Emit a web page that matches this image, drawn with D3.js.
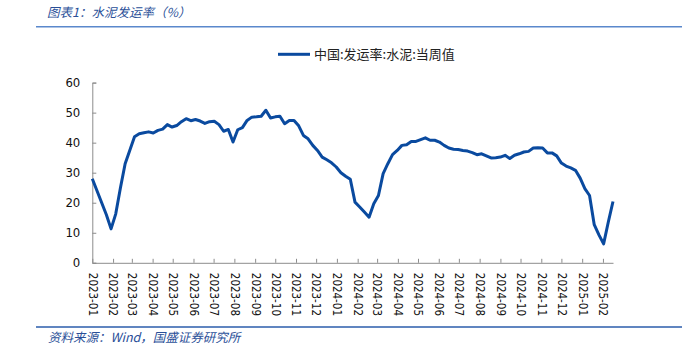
<!DOCTYPE html>
<html><head><meta charset="utf-8">
<script src="https://cdn.jsdelivr.net/npm/d3@7"></script>
<style>
html,body{margin:0;padding:0;background:#fff;}
svg{display:block;}
</style></head>
<body>
<svg id="c" width="685" height="360"></svg>
<script>
const titleText = "图表1：水泥发运率（%）";
const sourceText = "资料来源：Wind，国盛证券研究所";
const seriesName = "中国:发运率:水泥:当周值";
const startDate = "2023-01-06";
const values = [
 28,24,20,16,11.3,16.3,25,33,37.5,42,
 43,43.3,43.6,43.2,44.1,44.5,46,45.2,45.7,47,
 48,47.3,47.7,47.2,46.4,47,47.1,46,43.8,44.4,
 40.2,44.3,45,47.4,48.5,48.6,48.8,50.8,48.2,48.6,
 48.8,46.3,47.4,47.4,45.6,42.4,41.3,39.1,37.4,35.2,
 34.3,33.3,31.9,30,28.8,27.8,20.2,18.6,16.9,15.2,
 19.7,22.4,29.7,33,36,37.4,39.1,39.3,40.4,40.4,
 41,41.6,40.8,40.8,40.2,39.1,38.2,37.8,37.7,37.4,
 37.2,36.7,36,36.3,35.6,34.9,35,35.2,35.8,34.7,
 35.8,36.3,36.9,37.1,38.2,38.3,38.2,36.6,36.6,35.6,
 33.2,32.2,31.6,30.8,28.2,24.7,22.4,12.7,9.3,6.3,
 13.6,20.4
];
const tickLabels = ["2023-01","2023-02","2023-03","2023-04","2023-05","2023-06","2023-07","2023-08","2023-09","2023-10","2023-11","2023-12","2024-01","2024-02","2024-03","2024-04","2024-05","2024-06","2024-07","2024-08","2024-09","2024-10","2024-11","2024-12","2025-01","2025-02"];
const yTicks = [0,10,20,30,40,50,60];

const svg = d3.select("#c");
const blue = "#0a4a9f";
const textBlue = "#2a4f98";
const axisGrey = "#8c8c8c";
const parse = d3.timeParse("%Y-%m-%d");
const start = parse(startDate);
const data = values.map((v,i)=>({d:d3.timeWeek.offset(start,i), v}));
const tickDates = tickLabels.map(s=>parse(s+"-06"));

const x = d3.scaleTime().domain([data[0].d, data[data.length-1].d]).range([92.3, 613]);
const y = d3.scaleLinear().domain([0,60]).range([262.8, 82.6]);

// title
svg.append("text").attr("x",47).attr("y",17)
  .attr("font-family","'Noto Sans CJK SC'").attr("font-size",12.5)
  .attr("font-style","italic").attr("fill",textBlue).text(titleText);
svg.append("line").attr("x1",36).attr("x2",682).attr("y1",26.8).attr("y2",26.8)
  .attr("stroke","#5a88cc").attr("stroke-width",1.4);

// legend
svg.append("line").attr("x1",278).attr("x2",310).attr("y1",54.3).attr("y2",54.3)
  .attr("stroke",blue).attr("stroke-width",3);
svg.append("text").attr("x",314).attr("y",54.3).attr("dy","0.36em")
  .attr("font-family","'Noto Sans CJK SC'").attr("font-size",13)
  .attr("fill","#222").text(seriesName);

// y axis
const yAxis = svg.append("g").attr("transform","translate(92.3,0)")
  .call(d3.axisLeft(y).tickValues(yTicks).tickSize(-4).tickPadding(12).tickFormat(d3.format("d")));
yAxis.select(".domain").attr("stroke",axisGrey);
yAxis.selectAll(".tick line").attr("stroke",axisGrey);
yAxis.selectAll("text").attr("font-family","'DejaVu Sans Condensed','DejaVu Sans'").attr("font-size",13).attr("fill","#111");

// x axis
const xAxis = svg.append("g").attr("transform","translate(0,262.8)")
  .call(d3.axisBottom(x).tickValues(tickDates).tickSize(-4).tickSizeOuter(0).tickFormat((d,i)=>tickLabels[i]));
xAxis.select(".domain").attr("stroke",axisGrey);
xAxis.selectAll(".tick line").attr("stroke",axisGrey);
xAxis.selectAll("text")
  .attr("font-family","'DejaVu Sans Condensed','DejaVu Sans'").attr("font-size",11.5).attr("fill","#111")
  .attr("text-anchor","start").attr("transform","rotate(90)")
  .attr("x",10).attr("y",0).attr("dy","0.36em");

// line
svg.append("path").datum(data)
  .attr("fill","none").attr("stroke",blue).attr("stroke-width",3).attr("stroke-linejoin","round")
  .attr("d", d3.line().x(d=>x(d.d)).y(d=>y(d.v)));

// footer
svg.append("line").attr("x1",36).attr("x2",682).attr("y1",327).attr("y2",327)
  .attr("stroke","#2b5cab").attr("stroke-width",1.4);
svg.append("text").attr("x",48).attr("y",342)
  .attr("font-family","'Noto Sans CJK SC'").attr("font-size",12.5)
  .attr("font-style","italic").attr("fill",textBlue).text(sourceText);
</script>
</body></html>
